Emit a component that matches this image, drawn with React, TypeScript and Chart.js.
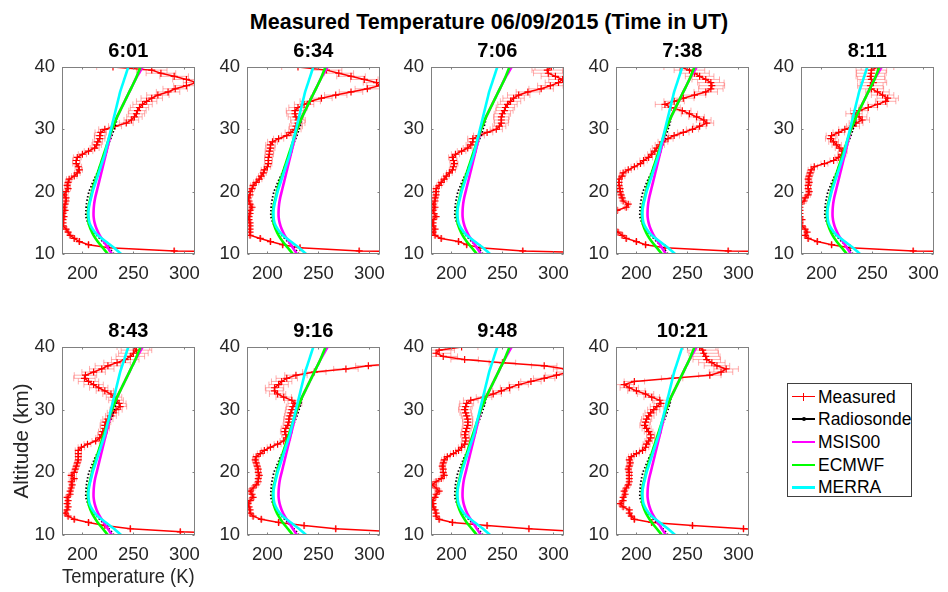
import React, { useEffect, useRef } from "react";
import { Chart, registerables } from "chart.js";

Chart.register(...registerables);

const FONT = "'Liberation Sans', Arial, Helvetica, sans-serif";
Chart.defaults.font.family = FONT;

// ---------- data ----------
const MAIN_TITLE = "Measured Temperature 06/09/2015 (Time in UT)";
const X_LABEL = "Temperature (K)";
const Y_LABEL = "Altitude (km)";
const X_TICKS = [200, 250, 300];
const Y_TICKS = [10, 20, 30, 40];
const X_MIN = 180;
const X_MAX = 310;
const Y_MIN = 10;
const Y_MAX = 40;

const SERIES_NAMES = ["Measured", "Radiosonde", "MSIS00", "ECMWF", "MERRA"];
const SERIES_COLORS = ["#ff0000", "#000000", "#ff00ff", "#00ff00", "#00ffff"];

// lidar altitude grid (km)
const ALT = [10, 10.5, 11, 11.5, 12, 12.5, 13, 13.5, 14, 14.5, 15, 15.5, 16, 16.5, 17, 17.5, 18, 18.5, 19, 19.5, 20, 20.5, 21, 21.5, 22, 22.5, 23, 23.5, 24, 24.5, 25, 25.5, 26, 26.5, 27, 27.5, 28, 28.5, 29, 29.5, 30, 30.5, 31, 31.5, 32, 32.5, 33, 33.5, 34, 34.5, 35, 35.5, 36, 36.5, 37, 37.5, 38, 38.5, 39, 39.5, 40];
// measurement uncertainty (K) on the same grid
const ERR = [0.5, 0.5, 0.5, 0.6, 0.7, 0.8, 0.9, 1, 1, 1.1, 1.2, 1.3, 1.4, 1.5, 1.6, 1.7, 1.8, 1.9, 2, 2.1, 2.2, 2.3, 2.4, 2.5, 2.6, 2.7, 2.8, 3, 3.2, 3.4, 3.6, 3.8, 4, 4.2, 4.4, 4.6, 4.8, 5, 5.3, 5.6, 6, 6.4, 6.8, 7.2, 7.6, 8, 8.5, 9, 9.5, 10, 10.5, 11, 11.5, 12, 12.5, 13, 13.5, 14, 14.5, 15, 16];

// measured temperature profiles (K)
const T_0601 = [420, 290, 226, 206, 197, 192, 188, 186, 184, 181, 181, 181, 182, 181, 183, 182, 183, 184, 184, 182, 184, 186, 185, 186, 187, 192, 195, 197, 196, 194, 194, 195, 200, 206, 212, 214, 215, 217, 217, 218, 222, 232, 243, 248, 251, 253, 254, 256, 259, 263, 268, 274, 284, 291, 302, 312, 302, 290, 277, 268, 230];
const T_0634 = [420, 290, 232, 215, 203, 193, 183, 183, 183, 183, 183, 182, 182, 183, 183, 185, 183, 182, 181, 183, 183, 185, 186, 189, 192, 194, 196, 197, 200, 201, 201, 201, 202, 202, 203, 203, 205, 211, 219, 223, 227, 228, 230, 230, 228, 227, 227, 230, 236, 242, 253, 267, 282, 298, 310, 307, 295, 282, 270, 258, 230];
const T_0706 = [380, 270, 228, 215, 207, 190, 184, 182, 184, 182, 182, 182, 185, 183, 182, 184, 182, 184, 184, 185, 185, 185, 188, 190, 193, 195, 198, 201, 202, 203, 202, 201, 204, 210, 216, 219, 221, 221, 227, 235, 244, 247, 249, 249, 249, 250, 252, 253, 255, 258, 261, 266, 275, 288, 297, 305, 309, 302, 295, 294, 298];
const T_0738 = [420, 290, 228, 209, 200, 190, 186, 182, 178, 176, 175, 175, 176, 178, 181, 190, 192, 187, 186, 185, 184, 184, 183, 183, 183, 186, 187, 192, 198, 204, 207, 212, 215, 218, 220, 223, 226, 231, 237, 246, 255, 262, 269, 266, 259, 252, 245, 234, 228, 237, 246, 257, 268, 273, 274, 273, 268, 262, 257, 252, 243];
const T_0811 = [420, 290, 228, 210, 196, 187, 184, 186, 184, 181, 179, 181, 179, 179, 179, 179, 179, 183, 184, 187, 188, 187, 187, 188, 187, 188, 189, 190, 193, 203, 212, 217, 220, 221, 218, 215, 212, 209, 210, 217, 223, 231, 234, 240, 237, 232, 237, 246, 255, 263, 265, 260, 255, 249, 248, 251, 249, 248, 249, 249, 255];
const T_0843 = [420, 296, 247, 222, 206, 192, 186, 183, 185, 186, 185, 186, 185, 188, 188, 189, 190, 189, 192, 189, 192, 193, 194, 195, 196, 196, 196, 196, 199, 205, 213, 217, 219, 220, 222, 222, 223, 225, 228, 230, 233, 237, 236, 233, 231, 228, 222, 216, 211, 206, 202, 203, 211, 219, 225, 234, 242, 247, 250, 253, 250];
const T_0916 = [420, 330, 267, 236, 211, 194, 186, 183, 183, 182, 181, 183, 186, 185, 183, 186, 189, 191, 191, 192, 191, 191, 190, 189, 188, 189, 193, 197, 203, 210, 216, 219, 218, 217, 218, 220, 221, 221, 222, 223, 224, 225, 227, 224, 216, 210, 207, 207, 211, 214, 219, 228, 246, 277, 299, 330, null, null, null, null, null];
const T_0948 = [420, 330, 276, 235, 201, 188, 185, 185, 184, 182, 182, 181, 184, 185, 188, 185, 181, 185, 190, 193, 192, 192, 191, 192, 193, 196, 202, 207, 210, 213, 214, 214, 213, 214, 215, 216, 216, 216, 215, 214, 213, 214, 215, 219, 232, 241, 249, 257, 266, 278, 291, 303, 315, 312, 291, 250, 213, 192, 185, 188, 210];
const T_1021 = [420, 360, 305, 255, 215, 198, 195, 193, 193, 187, 184, 187, 187, 189, 188, 190, 192, 193, 193, 193, 193, 192, 193, 194, 193, 195, 200, 206, 209, 210, 212, 214, 214, 212, 210, 208, 209, 210, 212, 214, 217, 220, 224, 223, 215, 209, 200, 193, 188, 198, 235, 272, 283, 288, 279, 274, 269, 268, 266, 265, 262];

const PANEL_TITLES = ["6:01", "6:34", "7:06", "7:38", "8:11", "8:43", "9:16", "9:48", "10:21"];
const PANEL_TEMPS = [T_0601, T_0634, T_0706, T_0738, T_0811, T_0843, T_0916, T_0948, T_1021];

// model / radiosonde profiles
const MODEL_ALT = [10, 11, 12, 13, 14, 15, 16, 17, 18, 19, 20, 21, 22, 23, 24, 25, 26, 27, 28, 29, 30, 31, 32, 33, 34, 35, 36, 37, 38, 39, 40];
const MSIS00 = [229, 225, 221, 217, 214, 212, 211, 211, 211.5, 212.5, 214, 215.5, 217, 218.5, 220, 221.5, 223, 224.5, 226, 227.5, 229, 231.5, 234, 237, 240, 243, 246, 249, 252, 255.5, 259];
const ECMWF = [225, 220, 215, 211, 208, 206, 205.5, 205.5, 206.5, 208, 209.5, 211, 213, 215, 217, 219, 221, 223, 225, 227, 229, 231.5, 234, 237, 240, 243, 246, 249, 252, 254.5, 257];
const MERRA = [238, 231, 223, 215, 210, 207, 206, 206, 207, 208.5, 210, 212, 214, 216, 218, 220, 222, 223.5, 225, 226.5, 228, 229.5, 231, 232.5, 234, 235.5, 237, 239, 241, 243, 245];
const SONDE_ALT = [10, 11, 12, 13, 14, 15, 16, 17, 18, 19, 20, 21, 22, 23, 24, 25, 26, 27, 28, 29, 30, 31, 32];
const SONDE = [231, 226, 220, 214, 209, 205.5, 203.5, 203.5, 204, 205, 206.5, 209, 211.5, 214.5, 217, 220, 223, 224.5, 226.5, 229, 231, 233, 234];

// ---------- layout ----------
const COL_LEFT = [62, 247, 431, 616, 801];
const ROW_TOP = [67, 347];
const PLOT_W = 139;
const PLOT_H = [187, 188];
const TEXT = "#262626";
const FRAME = "#808080";

function pts(xs: (number | null)[], ys: number[]) {
  const out: { x: number; y: number }[] = [];
  xs.forEach((v, i) => {
    if (v !== null && v !== undefined) out.push({ x: v, y: ys[i] });
  });
  return out;
}

type PanelProps = {
  title: string;
  temps: (number | null)[];
  left: number;
  top: number;
  width: number;
  height: number;
  labels: boolean;
};

function Panel({ title, temps, left, top, width, height, labels }: PanelProps) {
  const ref = useRef<HTMLCanvasElement | null>(null);
  const leftPad = labels ? 52 : 45;
  const rightPad = 9;
  const topPad = 32;
  const bottomPad = labels ? 590 - (top + height) : 30;
  const cw = leftPad + width + rightPad;
  const ch = topPad + height + bottomPad;

  useEffect(() => {
    if (!ref.current) return;
    const framePlugin = {
      id: "frameAndErrors",
      beforeDatasetsDraw(chart: any) {
        const { ctx, chartArea: a, scales } = chart;
        const xs = scales.x;
        const ys = scales.y;
        ctx.save();
        ctx.beginPath();
        ctx.rect(a.left, a.top, a.right - a.left, a.bottom - a.top);
        ctx.clip();
        ctx.strokeStyle = "rgba(255,60,60,0.42)";
        ctx.lineWidth = 1;
        temps.forEach((t, i) => {
          if (t === null || t === undefined) return;
          const y = ys.getPixelForValue(ALT[i]);
          const x1 = xs.getPixelForValue(t - ERR[i]);
          const x2 = xs.getPixelForValue(t + ERR[i]);
          ctx.beginPath();
          ctx.moveTo(x1, y);
          ctx.lineTo(x2, y);
          ctx.moveTo(x1, y - 3);
          ctx.lineTo(x1, y + 3);
          ctx.moveTo(x2, y - 3);
          ctx.lineTo(x2, y + 3);
          ctx.stroke();
        });
        ctx.restore();
      },
      afterDatasetsDraw(chart: any) {
        const { ctx, chartArea: a, scales } = chart;
        ctx.save();
        ctx.strokeStyle = FRAME;
        ctx.lineWidth = 1;
        const l = Math.round(a.left) + 0.5;
        const r = Math.round(a.right) - 0.5;
        const t = Math.round(a.top) + 0.5;
        const b = Math.round(a.bottom) - 0.5;
        ctx.strokeRect(l, t, r - l, b - t);
        ctx.beginPath();
        X_TICKS.forEach((v) => {
          const x = Math.round(scales.x.getPixelForValue(v)) + 0.5;
          ctx.moveTo(x, b);
          ctx.lineTo(x, b - 2);
          ctx.moveTo(x, t);
          ctx.lineTo(x, t + 2);
        });
        Y_TICKS.forEach((v) => {
          const y = Math.round(scales.y.getPixelForValue(v)) + 0.5;
          ctx.moveTo(l, y);
          ctx.lineTo(l + 2, y);
          ctx.moveTo(r, y);
          ctx.lineTo(r - 2, y);
        });
        ctx.stroke();
        ctx.restore();
      },
    };

    const chart = new Chart(ref.current, {
      type: "scatter",
      data: {
        datasets: [
          {
            label: SERIES_NAMES[4],
            data: pts(MERRA, MODEL_ALT),
            showLine: true,
            borderColor: SERIES_COLORS[4],
            borderWidth: 2.6,
            pointRadius: 0,
            tension: 0.3,
            order: 1,
          },
          {
            label: SERIES_NAMES[3],
            data: pts(ECMWF, MODEL_ALT),
            showLine: true,
            borderColor: SERIES_COLORS[3],
            borderWidth: 2.6,
            pointRadius: 0,
            tension: 0.3,
            order: 2,
          },
          {
            label: SERIES_NAMES[2],
            data: pts(MSIS00, MODEL_ALT),
            showLine: true,
            borderColor: SERIES_COLORS[2],
            borderWidth: 2.6,
            pointRadius: 0,
            tension: 0.3,
            order: 3,
          },
          {
            label: SERIES_NAMES[1],
            data: pts(SONDE, SONDE_ALT),
            showLine: true,
            borderColor: SERIES_COLORS[1],
            borderWidth: 1.8,
            borderDash: [1.5, 2],
            pointRadius: 0,
            tension: 0.3,
            order: 4,
          },
          {
            label: SERIES_NAMES[0],
            data: pts(temps, ALT),
            showLine: true,
            borderColor: SERIES_COLORS[0],
            borderWidth: 1.5,
            pointStyle: "cross",
            pointRadius: 3.5,
            pointBorderWidth: 1.2,
            pointBorderColor: SERIES_COLORS[0],
            pointBackgroundColor: SERIES_COLORS[0],
            tension: 0,
            order: 5,
          },
        ],
      },
      options: {
        responsive: false,
        animation: false,
        devicePixelRatio: 1,
        events: [],
        layout: { padding: { left: 0, right: rightPad, top: 0, bottom: 0 } },
        plugins: {
          legend: { display: false },
          tooltip: { enabled: false },
          title: {
            display: true,
            fullSize: false,
            text: title,
            color: "#000",
            font: { size: 20, weight: "bold", family: FONT },
            padding: { top: 4, bottom: 4 },
          },
        },
        scales: {
          x: {
            type: "linear",
            position: "bottom",
            min: X_MIN,
            max: X_MAX,
            afterBuildTicks: (s: any) => {
              s.ticks = X_TICKS.map((v) => ({ value: v }));
            },
            afterFit: (s: any) => {
              s.height = bottomPad;
            },
            grid: { display: false, drawTicks: false },
            border: { display: false },
            ticks: {
              color: TEXT,
              font: { size: 18.5, family: FONT },
              padding: 9,
              maxRotation: 0,
              minRotation: 0,
              autoSkip: false,
            },
            title: {
              display: labels,
              text: X_LABEL,
              color: TEXT,
              font: { size: 20.5, family: FONT },
              padding: { top: 0, bottom: 0 },
            },
          },
          y: {
            type: "linear",
            position: "left",
            min: Y_MIN,
            max: Y_MAX,
            afterBuildTicks: (s: any) => {
              s.ticks = Y_TICKS.map((v) => ({ value: v }));
            },
            afterFit: (s: any) => {
              s.width = leftPad;
            },
            grid: { display: false, drawTicks: false },
            border: { display: false },
            ticks: {
              color: TEXT,
              font: { size: 18.5, family: FONT },
              padding: 7,
              autoSkip: false,
            },
            title: {
              display: labels,
              text: Y_LABEL,
              color: TEXT,
              font: { size: 20.5, family: FONT },
              padding: { top: 0, bottom: 0 },
            },
          },
        },
      },
      plugins: [framePlugin],
    } as any);
    return () => chart.destroy();
  }, []);

  return (
    <canvas
      ref={ref}
      width={cw}
      height={ch}
      style={{
        position: "absolute",
        left: left - leftPad,
        top: top - topPad,
        width: cw,
        height: ch,
        display: "block",
      }}
    />
  );
}

function Legend() {
  const rows = [12.5, 35.2, 57.9, 80.6, 103.3];
  return (
    <div
      style={{
        position: "absolute",
        left: 787,
        top: 383,
        width: 125,
        height: 114,
        boxSizing: "border-box",
        border: "1px solid #404040",
        background: "#fff",
        fontFamily: FONT,
        fontSize: 17.5,
        color: "#000",
      }}
    >
      {SERIES_NAMES.map((name, i) => (
        <div key={name} style={{ position: "absolute", left: 0, top: rows[i] - 11, height: 22, width: 123 }}>
          <div
            style={{
              position: "absolute",
              left: 4,
              top: 10,
              width: 23,
              height: i < 2 ? 1.5 : 2.5,
              background: SERIES_COLORS[i],
            }}
          />
          {i === 0 && (
            <div style={{ position: "absolute", left: 15, top: 7, width: 1.2, height: 8, background: SERIES_COLORS[0] }} />
          )}
          {i === 1 && (
            <div
              style={{
                position: "absolute",
                left: 14,
                top: 9,
                width: 3.5,
                height: 3.5,
                borderRadius: 2,
                background: "#000",
              }}
            />
          )}
          <div style={{ position: "absolute", left: 30, top: 0, lineHeight: "22px", whiteSpace: "nowrap" }}>{name}</div>
        </div>
      ))}
    </div>
  );
}

export default function App() {
  const panels = PANEL_TITLES.map((t, i) => {
    const row = i < 5 ? 0 : 1;
    const col = i < 5 ? i : i - 5;
    return (
      <Panel
        key={t}
        title={t}
        temps={PANEL_TEMPS[i]}
        left={COL_LEFT[col]}
        top={ROW_TOP[row]}
        width={PLOT_W}
        height={PLOT_H[row]}
        labels={i === 5}
      />
    );
  });
  return (
    <div
      style={{
        position: "absolute",
        left: 0,
        top: 0,
        width: 948,
        height: 592,
        background: "#fff",
        overflow: "hidden",
        fontFamily: FONT,
      }}
    >
      <div
        style={{
          position: "absolute",
          left: 489,
          top: 10,
          transform: "translateX(-50%)",
          whiteSpace: "nowrap",
          fontWeight: "bold",
          fontSize: 21.5,
          lineHeight: "24px",
          color: "#000",
        }}
      >
        {MAIN_TITLE}
      </div>
      {panels}
      <Legend />
    </div>
  );
}
